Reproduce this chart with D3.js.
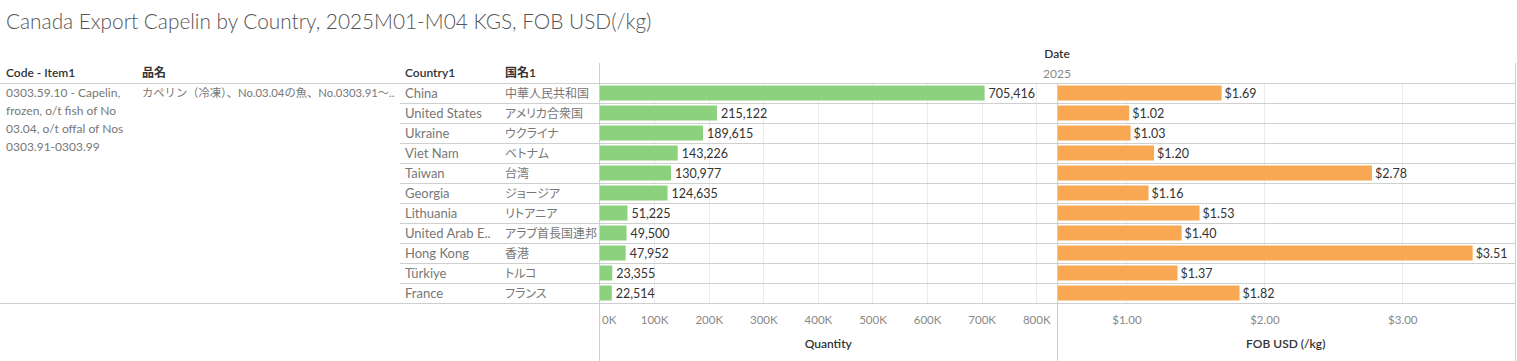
<!DOCTYPE html>
<html>
<head>
<meta charset="utf-8">
<script src="https://cdn.jsdelivr.net/npm/d3@7"></script>
<style>
  body { margin: 0; background: #fff; }
  svg text { font-family: Lato, "Noto Sans CJK JP", sans-serif; }
  .ja { font-feature-settings: "palt"; }
</style>
</head>
<body>
<script>
'use strict';

const countries   = ['China', 'United States', 'Ukraine', 'Viet Nam', 'Taiwan', 'Georgia', 'Lithuania', 'United Arab E..', 'Hong Kong', 'Türkiye', 'France'];
const countriesJa = ['中華人民共和国', 'アメリカ合衆国', 'ウクライナ', 'ベトナム', '台湾', 'ジョージア', 'リトアニア', 'アラブ首長国連邦', '香港', 'トルコ', 'フランス'];
const quantity    = [705416, 215122, 189615, 143226, 130977, 124635, 51225, 49500, 47952, 23355, 22514];
const price       = [1.69, 1.02, 1.03, 1.20, 2.78, 1.16, 1.53, 1.40, 3.51, 1.37, 1.82];
const qtyTicks    = [0, 100000, 200000, 300000, 400000, 500000, 600000, 700000, 800000];
const priceTicks  = [1, 2, 3];
const itemCode    = ['0303.59.10 - Capelin,', 'frozen, o/t fish of No', '03.04, o/t offal of Nos', '0303.91-0303.99'];
const itemJa      = 'カペリン（冷凍）、No.03.04の魚、No.0303.91～..';
const year        = '2025';

const W = 1517, H = 361;
const DIM = {
	rowsTop: 83,
	rowsBottom: 303,
	qty:   { left: 599.5, right: 1057 },
	price: { left: 1057.5, right: 1514 },
	right: 1515
};

const svg = d3.select('body').append('svg').attr('width', W).attr('height', H);

// title
svg.append('text').attr('x', 6).attr('y', 29)
	.attr('font-size', 20.8).attr('font-weight', 300).attr('fill', '#555')
	.text('Canada Export Capelin by Country, 2025M01-M04 KGS, FOB USD(/kg)');

const y = d3.scaleBand().domain(countries).range([DIM.rowsTop, DIM.rowsBottom]).paddingInner(0.25).paddingOuter(0.125);
const rowY = d3.scaleBand().domain(countries).range([DIM.rowsTop, DIM.rowsBottom]);

const xQty = d3.scaleLinear().domain([0, 838000]).range([DIM.qty.left, DIM.qty.right]);
const xPrice = d3.scaleLinear().domain([0.5, 3.81]).range([DIM.price.left, DIM.price.right]);

// gridlines
svg.append('g').selectAll('line').data(qtyTicks.slice(1)).join('line')
	.attr('x1', (d) => Math.round(xQty(d)) + 0.5).attr('x2', (d) => Math.round(xQty(d)) + 0.5)
	.attr('y1', DIM.rowsTop).attr('y2', DIM.rowsBottom)
	.attr('stroke', '#ececec');
svg.append('g').selectAll('line').data(priceTicks).join('line')
	.attr('x1', (d) => Math.round(xPrice(d)) + 0.5).attr('x2', (d) => Math.round(xPrice(d)) + 0.5)
	.attr('y1', DIM.rowsTop).attr('y2', DIM.rowsBottom)
	.attr('stroke', '#ececec');

// horizontal rules
const lines = svg.append('g').attr('stroke', '#cfcfcf').attr('stroke-width', 1);
lines.append('line').attr('x1', 0).attr('x2', DIM.right).attr('y1', DIM.rowsTop + 0.5).attr('y2', DIM.rowsTop + 0.5);
lines.append('line').attr('x1', 0).attr('x2', DIM.right).attr('y1', DIM.rowsBottom + 0.5).attr('y2', DIM.rowsBottom + 0.5);
lines.selectAll('line.row').data(countries.slice(1)).join('line').attr('class', 'row')
	.attr('x1', 400).attr('x2', DIM.right)
	.attr('y1', (d) => rowY(d) + 0.5).attr('y2', (d) => rowY(d) + 0.5);
// vertical rules
lines.append('line').attr('x1', 599.5).attr('x2', 599.5).attr('y1', 63).attr('y2', H);
lines.append('line').attr('x1', 1057.5).attr('x2', 1057.5).attr('y1', DIM.rowsTop).attr('y2', H);
lines.append('line').attr('x1', DIM.right + 0.5).attr('x2', DIM.right + 0.5).attr('y1', 63).attr('y2', H);

// column headers
const hdr = svg.append('g').attr('font-size', 12).attr('fill', '#333').attr('font-weight', 600);
hdr.append('text').attr('x', 6).attr('y', 77).text('Code - Item1');
hdr.append('text').attr('x', 142).attr('y', 77).text('品名');
hdr.append('text').attr('x', 405).attr('y', 77).text('Country1');
hdr.append('text').attr('x', 505).attr('y', 77).text('国名1');
hdr.append('text').attr('x', 1057).attr('y', 58).attr('text-anchor', 'middle').text('Date');
svg.append('text').attr('x', 1057).attr('y', 78).attr('text-anchor', 'middle')
	.attr('font-size', 12).attr('fill', '#888').text(year);

// item text
const item = svg.append('g').attr('font-size', 12).attr('fill', '#777');
item.selectAll('text').data(itemCode).join('text')
	.attr('x', 6).attr('y', (d, i) => 97 + i * 18).text((d) => d);
item.append('text').attr('x', 142).attr('y', 97).attr('font-size', 11.3).text(itemJa);

// row labels
const rows = svg.append('g').attr('font-size', 12).attr('fill', '#777');
rows.selectAll('text.en').data(countries).join('text').attr('class', 'en')
	.attr('font-size', 13)
	.attr('x', 405).attr('y', (d) => rowY(d) + rowY.bandwidth() / 2 + 4.5).text((d) => d);
rows.selectAll('text.ja').data(countriesJa).join('text').attr('class', 'ja')
	.attr('x', 505).attr('y', (d, i) => rowY(countries[i]) + rowY.bandwidth() / 2 + 4.5).text((d) => d);

// quantity bars
svg.append('g').selectAll('rect').data(quantity).join('rect')
	.attr('x', xQty(0) + 0.5)
	.attr('y', (d, i) => y(countries[i]))
	.attr('width', (d) => xQty(d) - xQty(0) - 0.5)
	.attr('height', y.bandwidth())
	.attr('fill', '#8CD17D');
svg.append('g').attr('font-size', 12.5).attr('fill', '#333').selectAll('text').data(quantity).join('text')
	.attr('x', (d) => xQty(d) + 4)
	.attr('y', (d, i) => rowY(countries[i]) + rowY.bandwidth() / 2 + 5)
	.text((d) => d3.format(',')(d));

// price bars
svg.append('g').selectAll('rect').data(price).join('rect')
	.attr('x', DIM.price.left + 0.5)
	.attr('y', (d, i) => y(countries[i]))
	.attr('width', (d) => xPrice(d) - DIM.price.left - 0.5)
	.attr('height', y.bandwidth())
	.attr('fill', '#F8A753');
svg.append('g').attr('font-size', 12.5).attr('fill', '#333').selectAll('text').data(price).join('text')
	.attr('x', (d) => xPrice(d) + 3)
	.attr('y', (d, i) => rowY(countries[i]) + rowY.bandwidth() / 2 + 5)
	.text((d) => '$' + d3.format('.2f')(d));

// axes
const qtyAxis = d3.axisBottom(xQty).tickValues(qtyTicks).tickSize(0).tickPadding(0)
	.tickFormat((d) => d3.format('.0f')(d / 1000) + 'K');
const gq = svg.append('g').attr('transform', 'translate(0,' + 324 + ')').call(qtyAxis);
const priceAxis = d3.axisBottom(xPrice).tickValues(priceTicks).tickSize(0).tickPadding(0)
	.tickFormat((d) => '$' + d3.format('.2f')(d));
const gp = svg.append('g').attr('transform', 'translate(0,' + 324 + ')').call(priceAxis);
[gq, gp].forEach((g) => {
	g.select('.domain').remove();
	g.selectAll('text').attr('font-size', 11.5).attr('fill', '#888').attr('dy', 0)
		.attr('font-family', 'Lato, sans-serif');
});
gq.selectAll('.tick').filter((d) => d === 0).select('text').attr('text-anchor', 'start').attr('x', 2);

svg.append('text').attr('x', (DIM.qty.left + DIM.qty.right) / 2).attr('y', 348).attr('text-anchor', 'middle')
	.attr('font-size', 12).attr('font-weight', 600).attr('fill', '#333').text('Quantity');
svg.append('text').attr('x', (DIM.price.left + DIM.price.right) / 2).attr('y', 348).attr('text-anchor', 'middle')
	.attr('font-size', 12).attr('font-weight', 600).attr('fill', '#333').text('FOB USD (/kg)');
</script>
</body>
</html>
